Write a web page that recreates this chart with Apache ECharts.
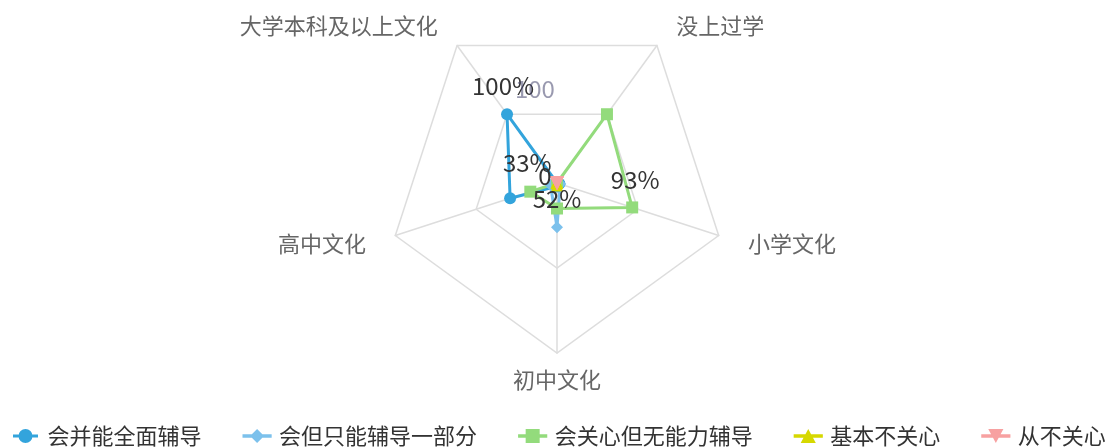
<!DOCTYPE html>
<html>
<head>
<meta charset="utf-8">
<style>
  html, body { margin: 0; padding: 0; background: #fff; }
  #chart { width: 1106px; height: 447px; }
</style>
<script src="https://cdn.jsdelivr.net/npm/echarts@6/dist/echarts.min.js"></script>
</head>
<body>
<div id="chart"></div>
<script>
// 指标（文化程度）
const indicators = ['大学本科及以上文化', '高中文化', '初中文化', '小学文化', '没上过学'];
const axisMax = 200;

const seriesNames = ['会并能全面辅导', '会但只能辅导一部分', '会关心但无能力辅导', '基本不关心', '从不关心'];
const seriesColors = ['#33a4dc', '#7cc1ec', '#93db7c', '#d6d800', '#f7a1a1'];
const seriesSymbols = ['circle', 'diamond', 'rect', 'triangle', 'triangle'];

// 各系列数值（%）
const fullHelp = [100, 58, 4, 3, 0];
const partHelp = [0, 8, 52, 4, 0];
const careNoAbility = [0, 33, 30, 93, 100];
const barelyCare = [0, 1, 3, 0, 0];
const neverCare = [0, 0, 0, 0, 0];
const seriesValues = [fullHelp, partHelp, careNoAbility, barelyCare, neverCare];

// 显示的标签: [系列, 指标, 格式, 偏移]
const shownLabels = [
    [0, 0, '{c}%', [-4, -5]],
    [2, 1, '{c}%', [-3, -6]],
    [1, 2, '{c}%', [0, -5]],
    [2, 3, '{c}%', [3, -5]],
    [2, 4, '{c}', [-72, -2]],
    [4, 0, '{c}', [-12, 17]]
];

// 图例图标: 线 + 标记
const lineBar = 'M0 5.5 H25 V8.5 H0 Z ';
const legendIcons = [
    'path://' + lineBar + 'M12.5 0 A7 7 0 1 1 12.5 14 A7 7 0 1 1 12.5 0 Z',
    'path://' + lineBar + 'M12.5 1 L18.5 7 L12.5 13 L6.5 7 Z',
    'path://' + lineBar + 'M6.5 1 H18.5 V13 H6.5 Z',
    'path://' + lineBar + 'M12.5 1 L19 13 L6 13 Z',
    'path://' + lineBar + 'M6 1 H19 L12.5 13 Z'
];

const chart = echarts.init(document.getElementById('chart'));

const series = seriesNames.map((name, si) => ({
    name: name,
    type: 'radar',
    symbol: seriesSymbols[si],
    symbolRotate: si === 4 ? 180 : 0,
    symbolSize: si === 4 ? 14 : 12,
    itemStyle: { color: seriesColors[si] },
    lineStyle: { color: seriesColors[si], width: 3 },
    data: [{ value: seriesValues[si], name: name }]
}));

// 单点标签: 每个标签一条透明的辅助系列
shownLabels.forEach((l, k) => {
    const si = l[0], ii = l[1];
    const faint = l[2] === '{c}' && si === 2;
    series.push({
        name: '_label' + k,
        type: 'radar',
        symbol: seriesSymbols[si],
        symbolSize: si === 4 ? 14 : 12,
        itemStyle: { color: 'transparent' },
        lineStyle: { width: 0, opacity: 0 },
        silent: true,
        z: 5,
        label: {
            show: true,
            fontSize: 24,
            color: faint ? 'rgba(70,70,110,0.55)' : '#333',
            offset: l[3],
            formatter: p => (p.value < 0 ? '' : l[2].replace('{c}', p.value))
        },
        data: [{ value: indicators.map((_, j) => (j === ii ? seriesValues[si][ii] : -1)) }]
    });
});

const option = {
    backgroundColor: '#fff',
    textStyle: { fontFamily: '"Noto Sans CJK SC", "Noto Sans", sans-serif' },
    legend: {
        left: 13,
        top: 425,
        width: 1400,
        padding: 0,
        itemWidth: 34,
        itemHeight: 14,
        itemGap: 41,
        textStyle: { fontSize: 22, color: '#333' },
        data: seriesNames.map((n, i) => ({ name: n, icon: legendIcons[i] }))
    },
    radar: {
        center: [557, 183],
        radius: 170,
        startAngle: 126,
        splitNumber: 2,
        indicator: indicators.map(n => ({ name: n, max: axisMax })),
        nameGap: 16,
        axisName: {
            color: '#666',
            fontSize: 22,
            formatter: function (name) {
                const i = indicators.indexOf(name);
                const key = i === 0 || i === 4 ? 'top' : (i === 2 ? 'bottom' : 'side');
                return '{' + key + '|' + name + '}';
            },
            rich: {
                top: { color: '#666', fontSize: 22, padding: [0, 10, 14, 10] },
                side: { color: '#666', fontSize: 22, padding: [6, 14, 0, 14] },
                bottom: { color: '#666', fontSize: 22 }
            }
        },
        splitArea: { show: false },
        splitLine: { lineStyle: { color: '#ddd', width: 1.5 } },
        axisLine: { lineStyle: { color: '#ddd', width: 1.5 } }
    },
    series: series
};

chart.setOption(option);
</script>
</body>
</html>
